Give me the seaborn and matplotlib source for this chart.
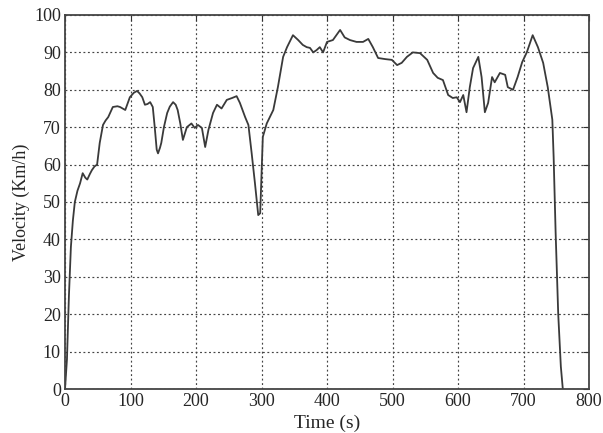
import matplotlib
matplotlib.use("Agg")
import matplotlib.pyplot as plt
import seaborn as sns
import pandas as pd

# Drive-cycle speed trace
time_s = [0, 3, 6, 9, 12, 15, 19, 23, 27, 31, 34, 38, 41, 45, 49, 53, 58, 62, 66, 73,
          80, 84, 92, 99, 105, 110, 114, 118, 122, 126, 130, 134, 137, 140, 142, 145,
          147, 151, 156, 160, 165, 169, 172, 176, 180, 186, 193, 198, 203, 209, 214,
          219, 226, 232, 239, 247, 255, 262, 267, 275, 280, 285, 290, 295, 298, 302,
          308, 318, 325, 333, 339, 348, 356, 363, 369, 374, 379, 384, 389, 394, 400,
          409, 420, 427, 435, 445, 455, 463, 470, 478, 489, 499, 507, 514, 522, 531,
          542, 553, 562, 569, 577, 585, 592, 598, 603, 608, 613, 618, 623, 631, 636,
          641, 646, 652, 656, 664, 672, 676, 684, 691, 698, 705, 714, 722, 730, 737,
          744, 746, 749, 753, 757, 760]
velocity_kmh = [0, 8, 25, 38, 45, 50, 53, 55, 57.7, 56.5, 56, 57.5, 58.5, 59.5, 60,
                65.8, 70.6, 71.8, 72.7, 75.4, 75.6, 75.4, 74.6, 78, 79.2, 79.7, 79, 78,
                76, 76.2, 76.7, 75.4, 70, 64, 63, 64.5, 65.8, 70, 73.8, 75.5, 76.7,
                76, 74.6, 71, 66.6, 70, 71, 69.8, 70.6, 69.8, 64.7, 69.3, 73.8, 76,
                75, 77.3, 77.8, 78.3, 76.5, 72.7, 70.6, 63, 55, 46.5, 47, 67.4, 71,
                74.6, 80.7, 88.8, 91.4, 94.6, 93.3, 92, 91.4, 91.2, 90, 90.6, 91.4,
                90, 92.8, 93.3, 96, 94, 93.3, 92.8, 92.8, 93.6, 91.4, 88.5, 88.2, 88,
                86.6, 87.2, 88.8, 90, 89.8, 88, 84.5, 83.2, 82.6, 78.6, 77.8, 78,
                76.7, 78.6, 74, 80.7, 85.8, 88.8, 83.4, 74, 76.5, 83.4, 82, 84.5, 84,
                80.7, 80, 83.4, 87.4, 90, 94.6, 91.4, 87.2, 80.7, 72, 62, 42, 20, 6, 0]

x_ticks = list(range(0, 801, 100))
y_ticks = list(range(0, 101, 10))

df = pd.DataFrame({"Time (s)": time_s, "Velocity (Km/h)": velocity_kmh})

sns.set_theme(style="white")
plt.rcParams["font.family"] = ["Liberation Serif", "DejaVu Serif"]
plt.rcParams["xtick.direction"] = "in"
plt.rcParams["ytick.direction"] = "in"

fig = plt.figure(figsize=(6.03, 4.33), dpi=100)
ax = fig.add_axes([0.1078, 0.1016, 0.8690, 0.8638])

sns.lineplot(data=df, x="Time (s)", y="Velocity (Km/h)", ax=ax,
             color="#3a3a3a", linewidth=1.3, estimator=None, sort=False)

ax.set_xlim(0, 800)
ax.set_ylim(0, 100)
ax.set_xticks(x_ticks)
ax.set_yticks(y_ticks)
ax.set_xticklabels([str(t) for t in x_ticks], fontsize=13)
ax.set_yticklabels([str(t) for t in y_ticks], fontsize=13)
ax.tick_params(axis="both", which="both", direction="in", length=4, width=0.8,
               color="#333333", pad=3, top=True, right=True)
ax.grid(True, linestyle=(0, (1.6, 2.2)), color="#444444", linewidth=0.85)
for spine in ax.spines.values():
    spine.set_color("#444444")
    spine.set_linewidth(1.3)
ax.set_xlabel("Time (s)", fontsize=14, labelpad=3)
ax.set_ylabel("Velocity (Km/h)", fontsize=13, labelpad=3)

fig.savefig("out.png", dpi=100)
